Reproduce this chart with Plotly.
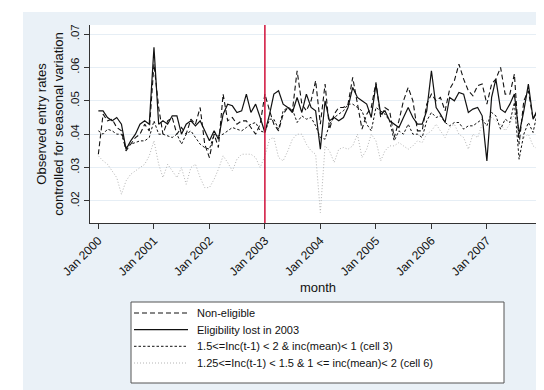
import plotly.graph_objects as go
import pandas as pd

months = pd.date_range("2000-01-01", periods=96, freq="MS")

non_eligible = [
    .034, .046, .044, .0445, .042, .041, .035, .037, .039, .040, .043, .041,
    .061, .048, .040, .044, .045, .040, .042, .040, .0445, .043, .048, .037,
    .033, .040, .036, .052, .044, .045, .043, .044, .044, .042, .040, .043,
    .052, .047, .043, .041, .046, .048, .047, .059, .049, .047, .050, .056,
    .043, .055, .0415, .046, .048, .048, .049, .057, .049, .0415, .046, .048,
    .0555, .045, .048, .047, .039, .044, .050, .054, .050, .041, .041, .049,
    .052, .050, .051, .047, .0535, .056, .061, .0565, .053, .0515, .0545, .055,
    .049, .055, .0565, .060, .052, .052, .058, .037, .050, .053, .0445, .047]

lost_2003 = [
    .047, .047, .045, .044, .045, .043, .0355, .038, .040, .043, .044, .043,
    .066, .043, .044, .043, .0455, .0455, .040, .043, .044, .0425, .044, .041,
    .038, .041, .0385, .046, .049, .0485, .0465, .047, .052, .0465, .049, .045,
    .0405, .046, .052, .053, .049, .048, .0465, .051, .0465, .052, .048, .047,
    .0355, .050, .044, .045, .044, .045, .048, .054, .051, .050, .049, .045,
    .055, .046, .047, .044, .043, .042, .045, .048, .045, .043, .043, .047,
    .059, .048, .046, .0435, .051, .050, .0525, .052, .0465, .0475, .048, .0455,
    .032, .051, .0565, .0475, .0465, .049, .052, .040, .047, .055, .0445, .0475]

cell3 = [
    .041, .040, .0415, .041, .040, .040, .036, .037, .0375, .038, .038, .039,
    .044, .040, .040, .0395, .039, .040, .037, .040, .041, .039, .037, .036,
    .0355, .040, .0395, .040, .041, .042, .0415, .041, .042, .043, .0435, .041,
    .0405, .0445, .0445, .0415, .047, .048, .0475, .0435, .0455, .0445, .045, .0425,
    .039, .0385, .043, .045, .046, .047, .049, .049, .048, .047, .043, .041,
    .048, .047, .046, .044, .038, .041, .040, .043, .040, .040, .039, .044,
    .0465, .045, .0455, .0435, .0425, .0435, .0435, .0415, .0425, .0425, .0435, .0445,
    .0425, .0465, .0455, .0415, .0445, .0435, .0495, .0325, .040, .0435, .0405, .047]

cell6 = [
    .0335, .032, .031, .029, .027, .022, .026, .028, .029, .030, .031, .0335,
    .038, .031, .027, .031, .029, .027, .030, .025, .030, .031, .027, .024,
    .024, .0265, .0295, .0335, .0315, .029, .0325, .034, .034, .034, .033, .030,
    .0335, .0385, .039, .033, .032, .035, .0385, .040, .040, .037, .035, .034,
    .0165, .0365, .035, .0315, .0355, .036, .0355, .0365, .040, .033, .0355, .040,
    .038, .032, .035, .0365, .0365, .0375, .0365, .0355, .0365, .038, .0375, .040,
    .041, .043, .041, .039, .042, .043, .040, .039, .0355, .040, .039, .043,
    .044, .045, .044, .043, .041, .043, .046, .040, .039, .040, .0365, .0355]

series_names = ["Non-eligible", "Eligibility lost in 2003",
                "1.5<=Inc(t-1) < 2 & inc(mean)< 1 (cell 3)",
                "1.25<=Inc(t-1) < 1.5 & 1 <= inc(mean)< 2 (cell 6)"]

year_ticks = pd.date_range("2000-01-01", periods=8, freq="12MS")
year_labels = ["Jan 2000", "Jan 2001", "Jan 2002", "Jan 2003",
               "Jan 2004", "Jan 2005", "Jan 2006", "Jan 2007"]
y_ticks = [.02, .03, .04, .05, .06, .07]
y_labels = [".02", ".03", ".04", ".05", ".06", ".07"]
break_month = "2003-01-01"

FONT = "Liberation Sans, Arial, sans-serif"
BG = "#eaf1f7"
W, H = 544, 390
ML, MR, MT, MB = 82, 6, 17, 175
PW, PH = W - ML - MR, H - MT - MB


def px_x(px):
    return (px - ML) / PW


def px_y(py):
    return (H - MB - py) / PH


fig = go.Figure()
styles = [
    dict(color="#111111", width=1.1, dash="5px,3px"),
    dict(color="#111111", width=1.2, dash="solid"),
    dict(color="#111111", width=1.0, dash="2.5px,2px"),
    dict(color="#b4b4b4", width=1.0, dash="1px,2px"),
]
for name, vals, st in zip(series_names, [non_eligible, lost_2003, cell3, cell6], styles):
    fig.add_trace(go.Scatter(x=months, y=vals, mode="lines", name=name,
                             line=st, showlegend=False))

fig.add_shape(type="line", xref="x", yref="paper", x0=break_month, x1=break_month,
              y0=0, y1=1, line=dict(color="#d0103a", width=1.5))

# white strips at left and top of the picture
fig.add_shape(type="rect", xref="paper", yref="paper",
              x0=px_x(-5), x1=px_x(15), y0=px_y(395), y1=px_y(-5),
              line=dict(width=0), fillcolor="white", layer="below")
fig.add_shape(type="rect", xref="paper", yref="paper",
              x0=px_x(-5), x1=px_x(550), y0=px_y(4), y1=px_y(-5),
              line=dict(width=0), fillcolor="white", layer="below")

# legend box drawn by hand
fig.add_shape(type="rect", xref="paper", yref="paper",
              x0=px_x(123), x1=px_x(496), y0=px_y(375), y1=px_y(294),
              line=dict(color="#555555", width=1), fillcolor="white", layer="below")
row_y = [305, 321.7, 338.3, 355]
for name, st, ry in zip(series_names, styles, row_y):
    fig.add_shape(type="line", xref="paper", yref="paper",
                  x0=px_x(126), x1=px_x(180), y0=px_y(ry), y1=px_y(ry),
                  line=st)
    fig.add_annotation(xref="paper", yref="paper", x=px_x(187), y=px_y(ry),
                       xanchor="left", yanchor="middle", showarrow=False,
                       text=name, font=dict(size=11, family=FONT, color="#111111"))

fig.update_layout(
    width=W, height=H,
    margin=dict(l=ML, r=MR, t=MT, b=MB, autoexpand=False),
    paper_bgcolor=BG, plot_bgcolor="white",
    font=dict(family=FONT, size=11, color="#111111"),
    showlegend=False,
    xaxis=dict(
        range=["1999-11-07", "2008-01-25"],
        tickvals=year_ticks, ticktext=year_labels, tickangle=-45,
        ticks="outside", ticklen=5, tickcolor="#333333",
        showgrid=False, zeroline=False,
        showline=True, linecolor="#333333", linewidth=1,
        title=dict(text="month", font=dict(size=13, family=FONT), standoff=5),
        tickfont=dict(size=12, family=FONT),
    ),
    yaxis=dict(
        range=[0.0134, 0.0727],
        tickvals=y_ticks, ticktext=y_labels, tickangle=-90,
        ticks="outside", ticklen=5, tickcolor="#333333",
        showgrid=True, gridcolor="#e6eef5", gridwidth=1,
        zeroline=False, showline=True, linecolor="#333333", linewidth=1,
        title=dict(text="Observed entry rates<br>controlled for seasonal variation",
                   font=dict(size=13, family=FONT), standoff=2),
        tickfont=dict(size=11.5, family=FONT),
    ),
)

fig.write_html("out.html")
